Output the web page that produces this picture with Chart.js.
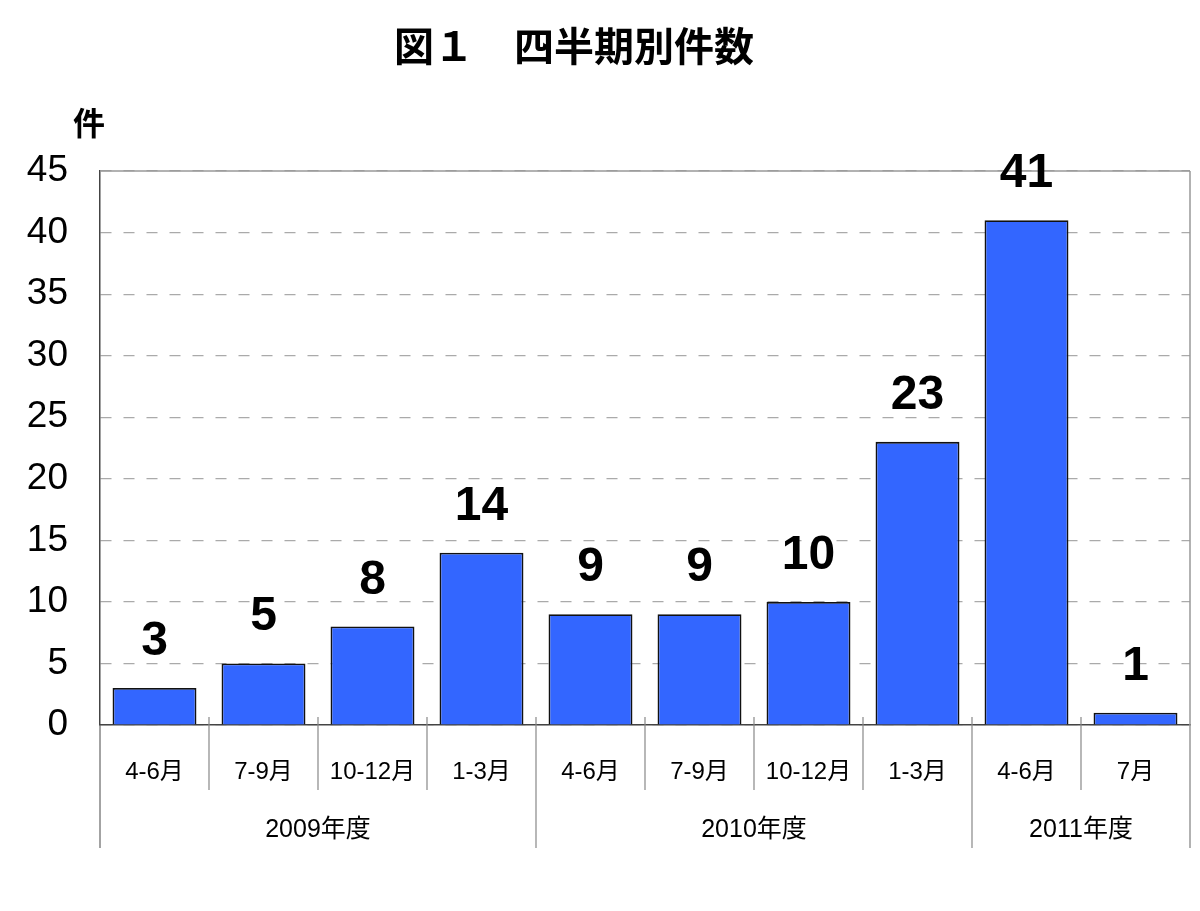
<!DOCTYPE html>
<html>
<head>
<meta charset="utf-8">
<script src="https://cdn.jsdelivr.net/npm/chart.js@4.4.0/dist/chart.umd.min.js"></script>
<style>
  html, body { margin: 0; padding: 0; background: #fff; }
  #wrap { width: 1200px; height: 911px; }
</style>
</head>
<body>
<div id="wrap"><canvas id="chart"></canvas></div>
<script>
const quarters = ["4-6月", "7-9月", "10-12月", "1-3月", "4-6月", "7-9月", "10-12月", "1-3月", "4-6月", "7月"];
const counts = [3, 5, 8, 14, 9, 9, 10, 23, 41, 1];
const fiscalYears = ["2009年度", "2010年度", "2011年度"];
const yearSizes = [4, 4, 2];
const yTicks = [0, 5, 10, 15, 20, 25, 30, 35, 40, 45];

const fontFamily = "'Liberation Sans', Arial, 'Noto Sans CJK JP', sans-serif";
const axisBottom = 848;

const extras = {
  id: "extras",
  afterDraw(chart) {
    const ctx = chart.ctx;
    const area = chart.chartArea;
    const x = chart.scales.x;
    const meta = chart.getDatasetMeta(0);
    ctx.save();

    // title and unit
    ctx.fillStyle = "#000";
    ctx.textAlign = "center";
    ctx.textBaseline = "middle";
    ctx.font = "bold 40px " + fontFamily;
    ctx.fillText("図１　四半期別件数", 574, 50);
    ctx.font = "bold 32px " + fontFamily;
    ctx.fillText("件", 89, 126);

    // frame: top and right
    ctx.strokeStyle = "#999";
    ctx.lineWidth = 1.5;
    ctx.beginPath();
    ctx.moveTo(area.left, area.top);
    ctx.lineTo(area.right, area.top);
    ctx.moveTo(area.right, area.top);
    ctx.lineTo(area.right, axisBottom);
    ctx.stroke();

    // left edge extension below axis
    ctx.strokeStyle = "#666";
    ctx.lineWidth = 1.2;
    ctx.beginPath();
    ctx.moveTo(area.left, area.bottom);
    ctx.lineTo(area.left, axisBottom);
    ctx.stroke();

    // separators between categories / years
    const ends = [];
    let acc = 0;
    yearSizes.forEach(n => { acc += n; ends.push(acc); });
    ctx.strokeStyle = "#888";
    ctx.lineWidth = 1.2;
    for (let i = 0; i < counts.length - 1; i++) {
      const px = (x.getPixelForValue(i) + x.getPixelForValue(i + 1)) / 2;
      const isYear = ends.includes(i + 1);
      ctx.beginPath();
      ctx.moveTo(px, area.bottom - 8);
      ctx.lineTo(px, isYear ? axisBottom : 790);
      ctx.stroke();
    }

    // year labels
    ctx.fillStyle = "#000";
    ctx.font = "25px " + fontFamily;
    let start = 0;
    fiscalYears.forEach((label, g) => {
      const end = start + yearSizes[g] - 1;
      const cx = (x.getPixelForValue(start) + x.getPixelForValue(end)) / 2;
      ctx.fillText(label, cx, 830);
      start += yearSizes[g];
    });

    // value labels
    ctx.font = "bold 48px " + fontFamily;
    ctx.textBaseline = "alphabetic";
    meta.data.forEach((bar, i) => {
      ctx.fillText(String(counts[i]), bar.x, bar.y - 33);
    });
    ctx.restore();
  }
};

new Chart(document.getElementById("chart"), {
  type: "bar",
  data: {
    labels: quarters,
    datasets: [{
      data: counts,
      backgroundColor: "#3366FF",
      borderColor: "#111",
      borderWidth: 1.8,
      barPercentage: 0.77,
      categoryPercentage: 1.0
    }]
  },
  options: {
    responsive: true,
    maintainAspectRatio: false,
    animation: false,
    layout: { padding: { top: 171, right: 10, left: 0, bottom: 0 } },
    plugins: {
      legend: { display: false },
      tooltip: { enabled: false }
    },
    scales: {
      x: {
        grid: { display: false },
        border: { display: true, color: "#444", width: 1.5 },
        ticks: {
          autoSkip: false,
          maxRotation: 0,
          color: "#000",
          padding: 25,
          font: { family: fontFamily, size: 24 }
        },
        afterFit(scale) { scale.height = 186; }
      },
      y: {
        min: 0,
        max: 45,
        afterBuildTicks(scale) { scale.ticks = yTicks.map(v => ({ value: v })); },
        grid: { color: "#aaa", lineWidth: 1.2, drawTicks: false },
        border: { display: true, color: "#444", width: 1.5, dash: [11, 12] },
        ticks: {
          color: "#000",
          padding: 32,
          font: { family: fontFamily, size: 37 }
        },
        afterFit(scale) { scale.width = 100; }
      }
    }
  },
  plugins: [extras]
});
</script>
</body>
</html>
